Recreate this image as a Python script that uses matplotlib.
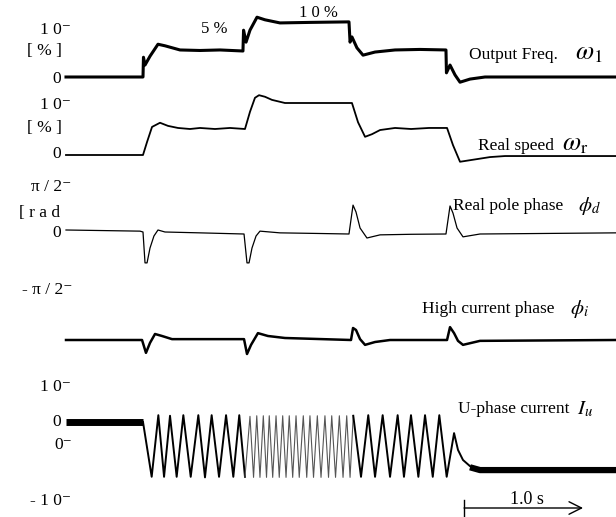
import numpy as np
import matplotlib.pyplot as plt

plt.rcParams['font.family'] = ['Liberation Serif', 'DejaVu Serif']
plt.rcParams['mathtext.fontset'] = 'stix'

# --- traces (time in s) ---
# output frequency omega_1 [%]
freq_t = [0, 0.647, 0.651, 0.664, 0.706, 0.773, 0.832, 0.958, 1.126, 1.294, 1.487,
          1.492, 1.513, 1.546, 1.605, 1.672, 1.798, 2.050, 2.378, 2.387, 2.403, 2.445,
          2.496, 2.597, 2.765, 2.975, 3.193, 3.197, 3.227, 3.269, 3.311, 3.395, 3.521, 4.622]
freq_v = [0, 0, 3.8, 2.3, 4.0, 6.3, 6.0, 5.2, 5.1, 5.2, 5.0,
          9.0, 6.7, 9.0, 11.5, 11.0, 10.4, 10.5, 10.6, 6.7, 7.7, 5.6,
          4.2, 4.8, 5.2, 5.3, 5.2, 0.8, 2.3, 0.4, -1.0, -0.4, 0, 0]

# real speed omega_r [%]
speed_t = [0, 0.647, 0.681, 0.723, 0.790, 0.857, 0.941, 1.042, 1.126, 1.252, 1.378,
           1.504, 1.546, 1.588, 1.622, 1.672, 1.731, 1.840, 2.403, 2.454, 2.513, 2.571,
           2.639, 2.765, 2.900, 3.050, 3.202, 3.252, 3.311, 3.395, 3.563, 3.689, 4.622]
speed_v = [0, 0, 2.5, 5.4, 6.2, 5.6, 5.2, 5.0, 5.2, 5.0, 5.2,
           5.0, 8.3, 11.0, 11.5, 11.2, 10.6, 10.0, 10.0, 6.3, 3.5, 4.0,
           4.8, 5.2, 5.0, 5.2, 5.2, 1.9, -1.3, -1.0, -0.4, -0.2, -0.2]

# real pole phase phi_d [rad]
phid_t = [0, 0.622, 0.647, 0.664, 0.681, 0.706, 0.739, 0.773, 0.832, 1.126, 1.496,
          1.521, 1.538, 1.563, 1.597, 1.630, 1.798, 2.100, 2.378, 2.412, 2.437, 2.471,
          2.529, 2.639, 2.900, 3.193, 3.227, 3.252, 3.286, 3.336, 3.479, 4.622]
phid_v = [0.07, 0.03, 0, -1.08, -1.08, -0.56, -0.14, 0.07, 0, -0.03, -0.07,
          -1.08, -1.08, -0.56, -0.14, 0.03, -0.03, -0.05, -0.07, 0.94, 0.70, 0.14,
          -0.21, -0.10, -0.08, -0.07, 0.91, 0.66, 0.14, -0.17, -0.07, -0.03]

# current phase phi_i [rad]
phii_t = [0, 0.639, 0.672, 0.706, 0.748, 0.807, 0.891, 1.496, 1.521, 1.555, 1.613,
          1.697, 1.840, 2.395, 2.412, 2.437, 2.471, 2.513, 2.597, 2.723, 3.202,
          3.227, 3.261, 3.294, 3.336, 3.479, 4.622]
phii_v = [0, 0, -0.45, -0.10, 0.21, 0.14, 0.03, 0.03, -0.49, -0.17, 0.24,
          0.14, 0.07, 0, 0.42, 0.35, 0.03, -0.17, -0.07, 0, 0,
          0.45, 0.24, -0.03, -0.17, -0.03, 0]

# U-phase current I_u: DC before start, peaks/troughs of the AC part, DC after stop
iu_pre_t = [0, 0.647]
iu_pre_v = [4.3, 4.3]
iu_ac_t = [0.647, 0.720, 0.776, 0.824, 0.874, 0.930, 0.986, 1.048, 1.112, 1.168,
           1.224, 1.286, 1.345, 1.406, 1.456, 1.504]
iu_ac_v = [4.3, -5.5, 5.5, -5.5, 5.4, -5.5, 5.5, -5.5, 5.5, -5.6,
           5.5, -5.5, 5.5, -5.5, 5.5, -5.5]
iu_fast_t = [1.504, 1.546, 1.576, 1.603, 1.630, 1.658, 1.685, 1.708, 1.737, 1.765,
             1.792, 1.821, 1.849, 1.876, 1.905, 1.933, 1.960, 1.994, 2.023, 2.050,
             2.080, 2.112, 2.143, 2.176, 2.206, 2.233, 2.265, 2.297, 2.328, 2.359,
             2.387, 2.414]
iu_fast_v = [-5.5, 5.3, -5.6, 5.4, -5.6, 5.4, -5.6, 5.4, -5.6, 5.4,
             -5.6, 5.4, -5.6, 5.4, -5.6, 5.4, -5.6, 5.4, -5.6, 5.4,
             -5.6, 5.4, -5.6, 5.4, -5.6, 5.4, -5.6, 5.4, -5.6, 5.4,
             -5.6, 5.4]
iu_slow_t = [2.414, 2.479, 2.540, 2.597, 2.661, 2.723, 2.787, 2.840, 2.899, 2.961,
             3.017, 3.082, 3.137, 3.199, 3.261, 3.294, 3.336, 3.395, 3.479]
iu_slow_v = [5.4, -5.5, 5.5, -5.5, 5.5, -5.5, 5.5, -5.5, 5.5, -5.5,
             5.5, -5.5, 5.5, -5.5, 2.3, -0.7, -2.5, -3.6, -4.3]
iu_post_t = [3.395, 3.479, 4.622]
iu_post_v = [-3.8, -4.3, -4.3]


def row(v, zero, gain):
    # channel value -> screen row (scope offset and gain)
    return zero - gain * np.asarray(v)


fig = plt.figure(figsize=(6.16, 5.17), dpi=100)
ax = fig.add_axes([0, 0, 1, 1])
ax.set_xlim(-0.5546, 4.6218)
ax.set_ylim(517, 0)
ax.axis('off')

ax.plot(freq_t, row(freq_v, 77, 5.2), color='black', lw=2.2)
ax.plot(speed_t, row(speed_v, 155, 5.2), color='black', lw=1.3)
ax.plot(phid_t, row(phid_v, 232, 28.6), color='black', lw=0.9)
ax.plot(phii_t, row(phii_v, 340, 28.6), color='black', lw=1.8)

ax.plot(iu_pre_t, row(iu_pre_v, 446, 5.6), color='black', lw=5, solid_capstyle='butt')
ax.plot(iu_ac_t, row(iu_ac_v, 446, 5.6), color='black', lw=1.4)
ax.plot(iu_fast_t, row(iu_fast_v, 446, 5.6), color='#555555', lw=0.8)
ax.plot(iu_slow_t, row(iu_slow_v, 446, 5.6), color='black', lw=1.4)
ax.plot(iu_post_t, row(iu_post_v, 446, 5.6), color='black', lw=4.5, solid_capstyle='butt')

# scale labels on the left
tick_kw = dict(fontsize=12.5, va='center')
ax.text(0.045, 30, '1 0⁻', ha='right', **tick_kw)
ax.text(-0.034, 51, '[ % ]', ha='right', **tick_kw)
ax.text(-0.042, 79, '0', ha='right', **tick_kw)
ax.text(0.045, 105, '1 0⁻', ha='right', **tick_kw)
ax.text(-0.034, 128, '[ % ]', ha='right', **tick_kw)
ax.text(-0.042, 154, '0', ha='right', **tick_kw)
ax.text(0.045, 187, 'π / 2⁻', ha='right', **tick_kw)
ax.text(-0.050, 213, '[ r a d', ha='right', **tick_kw)
ax.text(-0.042, 233, '0', ha='right', **tick_kw)
ax.text(0.050, 290, '- π / 2⁻', ha='right', **tick_kw)
ax.text(0.045, 387, '1 0⁻', ha='right', **tick_kw)
ax.text(-0.042, 422, '0', ha='right', **tick_kw)
ax.text(0.050, 445, '0⁻', ha='right', **tick_kw)
ax.text(0.045, 501, '- 1 0⁻', ha='right', **tick_kw)

# step annotations
ax.text(1.244, 29, '5 %', ha='center', va='center', fontsize=12)
ax.text(2.118, 13, '1 0 %', ha='center', va='center', fontsize=12)

# channel names
name_kw = dict(fontsize=12.5, va='center', ha='left')
sym_kw = dict(va='center', ha='left')
ax.text(3.387, 55, 'Output Freq.', **name_kw)
ax.text(4.277, 54, r'$\omega_1$', fontsize=19, **sym_kw)
ax.text(3.462, 146, 'Real speed', **name_kw)
ax.text(4.168, 145, r'$\omega_{\rm r}$', fontsize=19, **sym_kw)
ax.text(3.252, 206, 'Real pole phase', **name_kw)
ax.text(4.303, 206, r'$\phi_d$', fontsize=15, **sym_kw)
ax.text(2.992, 309, 'High current phase', **name_kw)
ax.text(4.235, 309, r'$\phi_i$', fontsize=15, **sym_kw)
ax.text(3.294, 409, 'U-phase current', **name_kw)
ax.text(4.294, 409, r'$I_u$', fontsize=15, **sym_kw)

# time scale bar: 1.0 s
ax.annotate('', xy=(4.345, 508), xytext=(3.345, 508),
            arrowprops=dict(arrowstyle='->,head_length=0.9,head_width=0.45',
                            lw=1.0, color='black', shrinkA=0, shrinkB=0))
ax.plot([3.345, 3.345], [500, 517], color='black', lw=1.0)
ax.text(3.874, 499, '1.0 s', ha='center', va='center', fontsize=13)

fig.savefig('out.png', dpi=100)
